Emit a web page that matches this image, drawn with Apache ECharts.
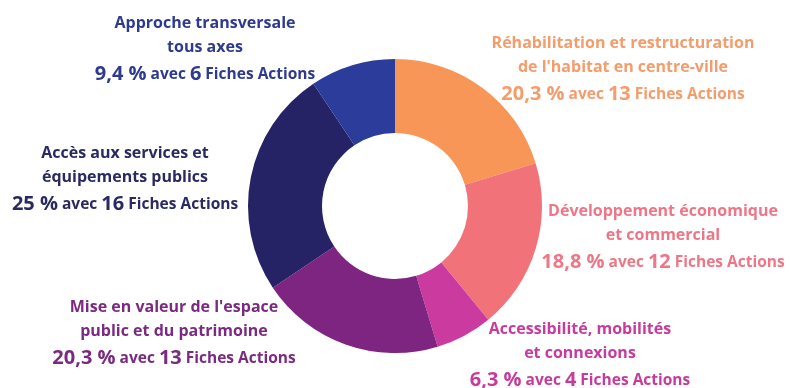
<!DOCTYPE html>
<html>
<head>
<meta charset="utf-8">
<script src="https://cdn.jsdelivr.net/npm/echarts@6/dist/echarts.min.js"></script>
<style>
html,body{margin:0;padding:0;background:#fff;}
#chart{width:790px;height:388px;}
</style>
</head>
<body>
<div id="chart"></div>
<script>
// Data (clockwise from 12 o'clock)
const categories = [
  "Réhabilitation et restructuration\nde l'habitat en centre-ville",
  "Développement économique\net commercial",
  "Accessibilité, mobilités\net connexions",
  "Mise en valeur de l'espace\npublic et du patrimoine",
  "Accès aux services et\néquipements publics",
  "Approche transversale\ntous axes"
];
const ficheCounts = [13, 12, 4, 13, 16, 6];
const percentLabels = ["20,3 %", "18,8 %", "6,3 %", "20,3 %", "25 %", "9,4 %"];

// Styles
const sliceColors = ["#F79656", "#F2727A", "#CB3A9E", "#7E2582", "#262266", "#2B3C9B"];
const textColors  = ["#F39C6C", "#EE7686", "#C63C9C", "#7A2A80", "#2A2A62", "#2E3A8E"];
const labelPos = [
  [623, 70], [663, 238], [580, 356], [174, 334], [125, 180], [205, 50]
];
const FONT = "Open Sans";

const data = categories.map((name, i) => ({
  name: name,
  value: ficheCounts[i],
  itemStyle: { color: sliceColors[i] },
  label: {
    formatter: () => `{t|${name.split("\n").join("}\n{t|")}}\n{b|${percentLabels[i]}}{s| avec }{b|${ficheCounts[i]}}{s| Fiches Actions}`,
    rich: {
      t: { fontFamily: FONT, fontWeight: "bold", fontSize: 16, lineHeight: 24.5, color: textColors[i] },
      b: { fontFamily: FONT, fontWeight: "bold", fontSize: 20, lineHeight: 29, color: textColors[i] },
      s: { fontFamily: FONT, fontWeight: "bold", fontSize: 15.5, lineHeight: 29, color: textColors[i] }
    }
  }
}));

const chart = echarts.init(document.getElementById("chart"), null, { renderer: "canvas" });
chart.setOption({
  animation: false,
  backgroundColor: "#ffffff",
  series: [{
    type: "pie",
    center: [395, 206],
    radius: [73, 147],
    startAngle: 90,
    clockwise: true,
    avoidLabelOverlap: false,
    label: { show: true, position: "outside", align: "center" },
    labelLine: { show: false },
    labelLayout: (params) => ({
      x: labelPos[params.dataIndex][0],
      y: labelPos[params.dataIndex][1],
      align: "center",
      verticalAlign: "middle"
    }),
    data: data
  }]
});
</script>
</body>
</html>
